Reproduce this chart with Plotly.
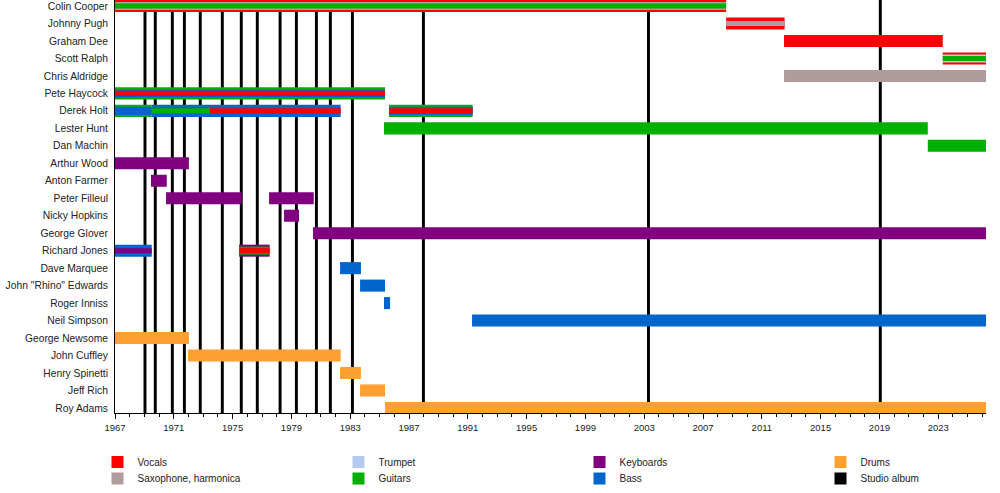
import plotly.graph_objects as go

# band members, top to bottom
members = ["Colin Cooper", "Johnny Pugh", "Graham Dee", "Scott Ralph", "Chris Aldridge",
           "Pete Haycock", "Derek Holt", "Lester Hunt", "Dan Machin", "Arthur Wood",
           "Anton Farmer", "Peter Filleul", "Nicky Hopkins", "George Glover", "Richard Jones",
           "Dave Marquee", 'John "Rhino" Edwards', "Roger Inniss", "Neil Simpson",
           "George Newsome", "John Cuffley", "Henry Spinetti", "Jeff Rich", "Roy Adams"]

start_year = 1967
end_year = 2026.25

# (member, instrument, from, till) - main bar
outer_spans = [
    ("Colin Cooper", "Vocals", 1967, 2008.57),
    ("Johnny Pugh", "Vocals", 2008.57, 2012.55),
    ("Graham Dee", "Vocals", 2012.51, 2023.31),
    ("Scott Ralph", "Vocals", 2023.31, end_year),
    ("Chris Aldridge", "Saxophone, harmonica", 2012.51, end_year),
    ("Pete Haycock", "Guitars", 1967, 1985.37),
    ("Derek Holt", "Guitars", 1967, 1969.5),
    ("Derek Holt", "Bass", 1969.5, 1982.35),
    ("Derek Holt", "Guitars", 1985.64, 1991.33),
    ("Lester Hunt", "Guitars", 1985.3, 2022.29),
    ("Dan Machin", "Guitars", 2022.29, end_year),
    ("Arthur Wood", "Keyboards", 1967, 1972.03),
    ("Anton Farmer", "Keyboards", 1969.45, 1970.52),
    ("Peter Filleul", "Keyboards", 1970.47, 1975.62),
    ("Peter Filleul", "Keyboards", 1977.48, 1980.52),
    ("Nicky Hopkins", "Keyboards", 1978.5, 1979.52),
    ("George Glover", "Keyboards", 1980.47, end_year),
    ("Richard Jones", "Bass", 1967, 1969.5),
    ("Richard Jones", "Keyboards", 1975.44, 1977.52),
    ("Dave Marquee", "Bass", 1982.31, 1983.73),
    ('John "Rhino" Edwards', "Bass", 1983.67, 1985.37),
    ("Roger Inniss", "Bass", 1985.3, 1985.71),
    ("Neil Simpson", "Bass", 1991.29, end_year),
    ("George Newsome", "Drums", 1967, 1972.03),
    ("John Cuffley", "Drums", 1971.97, 1982.35),
    ("Henry Spinetti", "Drums", 1982.31, 1983.73),
    ("Jeff Rich", "Drums", 1983.67, 1985.37),
    ("Roy Adams", "Drums", 1985.37, end_year),
]

# second instrument, drawn thinner over the main bar
middle_spans = [
    ("Colin Cooper", "Saxophone, harmonica", 1967, 2008.57),
    ("Scott Ralph", "Trumpet", 2023.31, end_year),
    ("Pete Haycock", "Bass", 1967, 1985.37),
    ("Derek Holt", "Bass", 1967, 1969.5),
    ("Derek Holt", "Bass", 1985.64, 1991.33),
    ("Richard Jones", "Guitars", 1975.44, 1977.52),
]

# third instrument, thinnest
inner_spans = [
    ("Colin Cooper", "Guitars", 1967, 2008.57),
    ("Johnny Pugh", "Saxophone, harmonica", 2008.57, 2012.55),
    ("Scott Ralph", "Guitars", 2023.31, end_year),
    ("Pete Haycock", "Vocals", 1967, 1985.37),
    ("Derek Holt", "Guitars", 1969.5, 1973.46),
    ("Derek Holt", "Vocals", 1973.46, 1982.35),
    ("Derek Holt", "Vocals", 1985.64, 1991.33),
    ("Richard Jones", "Keyboards", 1967, 1969.5),
    ("Richard Jones", "Vocals", 1975.44, 1977.52),
]

album_years = [1969.04, 1969.74, 1970.90, 1971.72, 1972.80, 1974.30, 1975.59, 1976.68,
               1978.23, 1979.34, 1980.70, 1981.65, 1983.15, 1987.98, 2003.29, 2019.06]

# legend layout: two rows of four
legend_row1 = ["Vocals", "Trumpet", "Keyboards", "Drums"]
legend_row2 = ["Saxophone, harmonica", "Guitars", "Bass", "Studio album"]
legend_order = legend_row1 + legend_row2

colors = {
    "Vocals": "#FF0000",
    "Saxophone, harmonica": "#B09B9D",
    "Trumpet": "#B4C8F0",
    "Guitars": "#00B000",
    "Keyboards": "#800080",
    "Bass": "#0066CC",
    "Drums": "#FFA030",
    "Studio album": "#000000",
}


def legend_for(name):
    i = legend_order.index(name)
    return "legend" if i == 0 else f"legend{i + 1}"


y_top = -0.345
y_bottom = 23.29

fig = go.Figure()

# studio albums as thin vertical bars, drawn first so members cover them
fig.add_trace(go.Bar(
    x=album_years, y=[y_bottom - y_top] * len(album_years), base=y_top,
    width=0.2, orientation="v", marker=dict(color=colors["Studio album"], line_width=0),
    name="Studio album", legend=legend_for("Studio album"), hoverinfo="skip",
))

shown = set()
for spans, w in [(outer_spans, 0.69), (middle_spans, 0.46), (inner_spans, 0.29)]:
    instruments = []
    for s in spans:
        if s[1] not in instruments:
            instruments.append(s[1])
    for inst in instruments:
        rows = [s for s in spans if s[1] == inst]
        fig.add_trace(go.Bar(
            y=[members.index(r[0]) for r in rows],
            x=[r[3] - r[2] for r in rows],
            base=[r[2] for r in rows],
            width=w, orientation="h",
            marker=dict(color=colors[inst], line_width=0),
            name=inst, showlegend=inst not in shown, legend=legend_for(inst),
            hovertext=[r[0] for r in rows],
        ))
        shown.add(inst)

legends = {}
col_x = [-0.0201, 0.2566, 0.5333, 0.8100]
row_y = [0.0923, 0.0588]
for i, name in enumerate(legend_order):
    key = legend_for(name)
    legends[key] = dict(orientation="v", x=col_x[i % 4], y=row_y[i // 4], yref="container",
                        xanchor="left", yanchor="top", font=dict(size=10),
                        bgcolor="rgba(0,0,0,0)")

fig.update_layout(
    width=1000, height=493,
    margin=dict(l=115, r=14, t=0, b=80),
    barmode="overlay",
    plot_bgcolor="white", paper_bgcolor="white",
    font=dict(family="Liberation Sans, Arial, sans-serif", size=10, color="#222222"),
    **legends,
)
fig.update_xaxes(
    range=[start_year, end_year], tick0=start_year, dtick=4, automargin=False,
    showgrid=False, zeroline=False, showline=True, linecolor="black", linewidth=1,
    ticks="outside", ticklen=5, tickcolor="black", tickfont=dict(size=9.5),
    ticklabelstandoff=1,
    minor=dict(dtick=1, ticks="outside", ticklen=3, tickcolor="black", showgrid=False),
)
fig.update_yaxes(
    range=[y_bottom, y_top], tickvals=list(range(len(members))), ticktext=members,
    automargin=False,
    showgrid=False, zeroline=False, showline=True, linecolor="black", linewidth=1,
    ticks="", ticklabelstandoff=4, tickfont=dict(size=10.3),
)

fig.write_html("out.html", config={"displayModeBar": False},
               post_script="document.body.style.margin = '0px';")
